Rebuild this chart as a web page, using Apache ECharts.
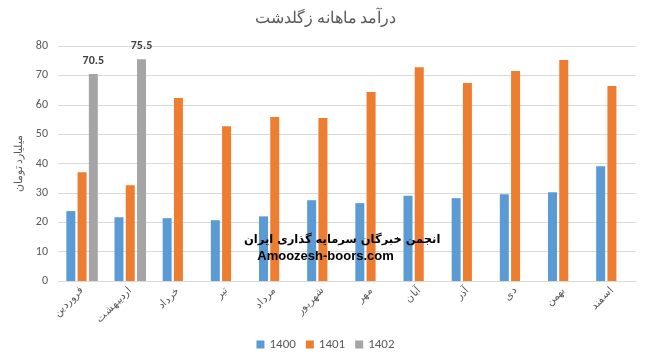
<!DOCTYPE html>
<html>
<head>
<meta charset="utf-8">
<script src="https://cdn.jsdelivr.net/npm/echarts@6/dist/echarts.min.js"></script>
<style>html,body{margin:0;padding:0;background:#fff;}#c{width:651px;height:363px;}</style>
</head>
<body>
<div id="c"></div>
<script>
const categories = ['فروردین','اردیبهشت','خرداد','تیر','مرداد','شهریور','مهر','آبان','آذر','دی','بهمن','اسفند'];
const s1400 = [23.8, 21.7, 21.4, 20.7, 22.0, 27.5, 26.5, 29.0, 28.2, 29.5, 30.2, 39.1];
const s1401 = [37.0, 32.6, 62.3, 52.7, 55.8, 55.5, 64.3, 72.8, 67.4, 71.5, 75.2, 66.4];
const s1402 = [70.5, 75.5, null, null, null, null, null, null, null, null, null, null];
const seriesNames = ['1400','1401','1402'];
const yTicks = {min: 0, max: 80, interval: 10};

const chart = echarts.init(document.getElementById('c'));
const font = 'Calibri, Carlito, "Liberation Sans", sans-serif';
chart.setOption({
  animation: false,
  title: {
    text: 'درآمد ماهانه زگلدشت', left: 'center', top: 6,
    textStyle: {color: '#595959', fontSize: 16, fontWeight: 'normal', fontFamily: font}
  },
  legend: {
    bottom: 7, left: 'center', itemWidth: 8, itemHeight: 8, itemGap: 10,
    icon: 'rect', textStyle: {color: '#595959', fontSize: 13, fontFamily: font},
    data: seriesNames
  },
  grid: {left: 58, right: 15, top: 46, bottom: 82},
  xAxis: {
    type: 'category', data: categories,
    axisLine: {lineStyle: {color: '#d9d9d9'}},
    axisTick: {show: false},
    axisLabel: {rotate: 45, color: '#595959', fontSize: 10.5, fontFamily: font, interval: 0, margin: 8}
  },
  yAxis: {
    type: 'value', min: yTicks.min, max: yTicks.max, interval: yTicks.interval,
    name: 'میلیارد تومان', nameLocation: 'middle', nameGap: 30,
    nameTextStyle: {color: '#595959', fontSize: 11, fontFamily: font},
    axisLine: {show: false}, axisTick: {show: false},
    axisLabel: {color: '#595959', fontSize: 12, fontFamily: font, margin: 10},
    splitLine: {lineStyle: {color: '#d9d9d9', width: 1}}
  },
  series: [
    {name: seriesNames[0], type: 'bar', data: s1400, barWidth: 9, barGap: '25%', itemStyle: {color: '#5B9BD5'}},
    {name: seriesNames[1], type: 'bar', data: s1401, barWidth: 9, barGap: '25%', itemStyle: {color: '#ED7D31'}},
    {name: seriesNames[2], type: 'bar', data: s1402, barWidth: 9, barGap: '25%', itemStyle: {color: '#A5A5A5'},
      label: {show: true, position: 'top', distance: 7, color: '#404040', fontWeight: 'bold', fontSize: 12, fontFamily: font}}
  ],
  graphic: [
    {type: 'text', left: 244, top: 234, style: {text: 'انجمن خبرگان سرمایه گذاری ایران', fill: '#000', font: 'bold 11.5px "DejaVu Sans", sans-serif'}, z: 100},
    {type: 'text', left: 'center', top: 250, style: {text: 'Amoozesh-boors.com', fill: '#000', font: 'bold 13px Arial, "Liberation Sans", sans-serif'}, z: 100}
  ]
});
</script>
</body>
</html>
